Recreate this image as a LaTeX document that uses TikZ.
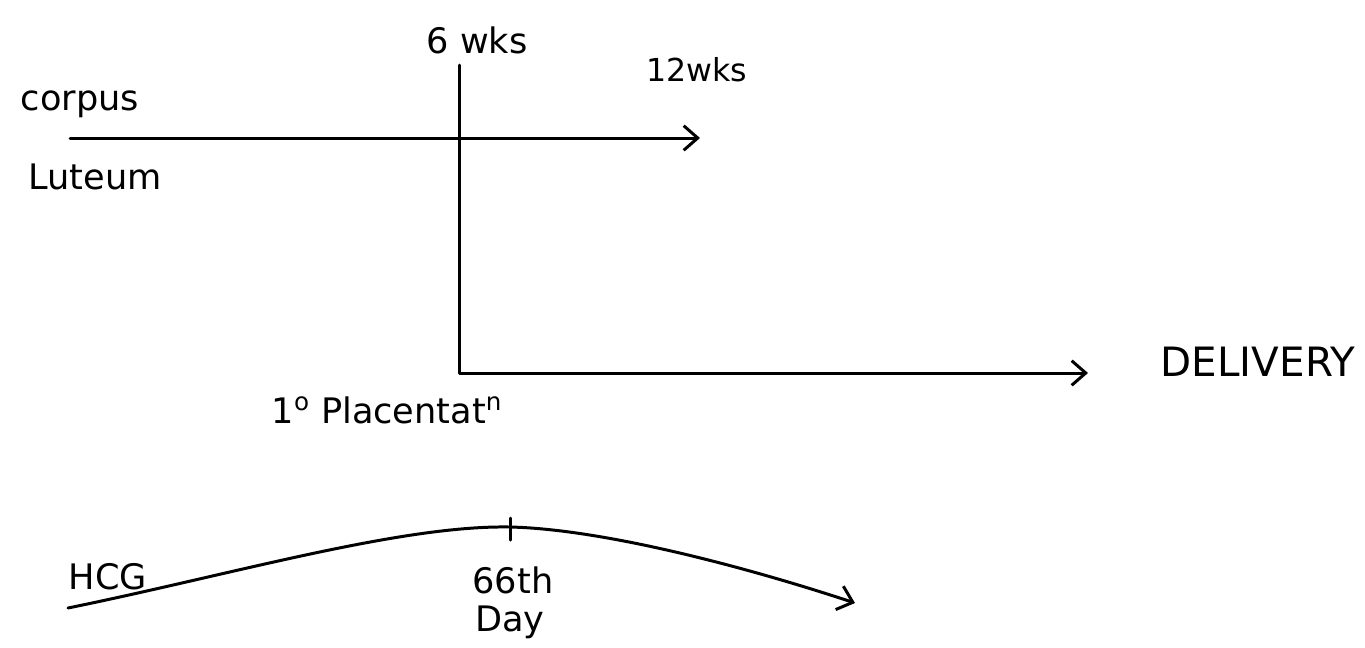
\documentclass[tikz,border=0pt]{standalone}
\usepackage{fontspec}
\setmainfont{DejaVu Sans}
\usetikzlibrary{arrows.meta}
\begin{document}
\begin{tikzpicture}[x=0.02cm,y=-0.02cm,
  lbl/.style={inner sep=0pt, font=\fontsize{20}{22}\selectfont},
  axis/.style={line width=1.7pt, line cap=round, line join=round},
  arr/.style={axis, -{Straight Barb[length=8pt,width=14pt,line width=1.7pt]}}]
\useasboundingbox (0,0) rectangle (1365,647);

% labels
\node[lbl] (wk6) at (477,40) {6 wks};
\node[lbl, font=\fontsize{18}{20}\selectfont] (wk12) at (697,70) {12wks};
\node[lbl] (corpus) at (80,104) {corpus};
\node[lbl] (luteum) at (95,177) {Luteum};
\node[lbl, font=\fontsize{23}{25}\selectfont] (delivery) at (1258,362) {DELIVERY};
\node[lbl] (placenta) at (387,410) {1\textsuperscript{o} Placentat\textsuperscript{n}};
\node[lbl] (hcg) at (108,577) {HCG};
\node[lbl] (day66) at (513,580) {66th};
\node[lbl] (day) at (510,622) {Day};

% anchor points of the lines
\coordinate (top) at (459,65);
\coordinate (corner) at (459,373);
\coordinate (clstart) at (70,138);
\coordinate (clend) at (700,138);
\coordinate (delend) at (1088,373);
\coordinate (hcgstart) at (68,608);
\coordinate (peak) at (510,527);
\coordinate (hcgend) at (855,603);
\coordinate (ticktop) at (510,518);
\coordinate (tickbot) at (510,540);

% corpus luteum timeline
\draw[arr] (clstart) -- (clend);
% 6 weeks marker running down into the placenta timeline
\draw[arr] (top) -- (corner) -- (delend);
% HCG curve
\draw[arr] (hcgstart) .. controls (230,575) and (400,525) .. (peak)
  .. controls (600,529) and (740,565) .. (hcgend);
\draw[axis] (ticktop) -- (tickbot);
\end{tikzpicture}
\end{document}
